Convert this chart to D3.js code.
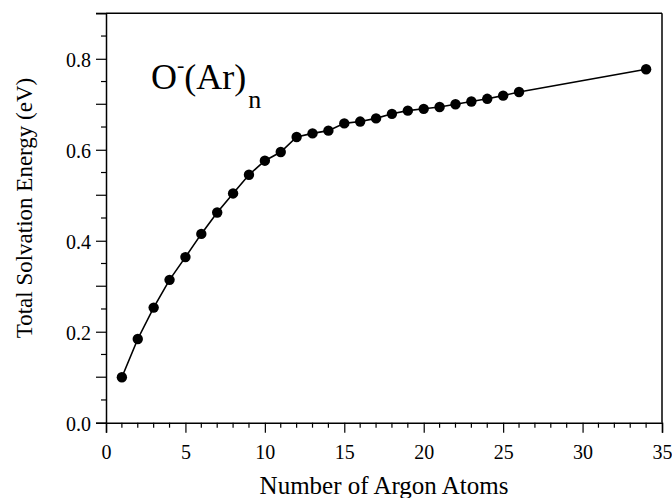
<!DOCTYPE html>
<html>
<head>
<meta charset="utf-8">
<script src="https://cdn.jsdelivr.net/npm/d3@7"></script>
<style>
  html, body { margin: 0; padding: 0; background: #fff; }
  svg { display: block; }
  svg text { font-family: "Liberation Serif", "Times New Roman", serif !important; fill: #000; }
</style>
</head>
<body>
<div id="chart"></div>
<script>
// ---- data ----
const atoms = [1,2,3,4,5,6,7,8,9,10,11,12,13,14,15,16,17,18,19,20,21,22,23,24,25,26,34];
const energy = [0.100,0.184,0.253,0.314,0.364,0.415,0.462,0.504,0.545,0.576,0.595,0.628,0.636,0.642,0.658,0.662,0.669,0.679,0.686,0.690,0.694,0.700,0.706,0.712,0.719,0.727,0.777];
const xTicks = [0,5,10,15,20,25,30,35];
const yTicks = [0.0,0.2,0.4,0.6,0.8];
const xTitle = "Number of Argon Atoms";
const yTitle = "Total Solvation Energy (eV)";

const W = 672, H = 498;
const svg = d3.select("#chart").append("svg").attr("width", W).attr("height", H);

const x = d3.scaleLinear().domain([0, 35]).range([106, 662]);
const y = d3.scaleLinear().domain([0, 0.9]).range([422.7, 13.3]);

// frame (top and right)
svg.append("line").attr("x1", x(0)).attr("x2", x(35)).attr("y1", y(0.9)).attr("y2", y(0.9))
  .attr("stroke", "#000").attr("stroke-width", 1.5);
svg.append("line").attr("x1", x(35)).attr("x2", x(35)).attr("y1", y(0.9)).attr("y2", y(0))
  .attr("stroke", "#000").attr("stroke-width", 1.5);

// x axis
const xMinor = d3.range(0, 36, 1).filter(v => v % 5 !== 0);
const xAx = svg.append("g").attr("transform", `translate(0,${y(0)})`);
xAx.call(d3.axisBottom(x).tickValues(xTicks).tickSize(10).tickPadding(12).tickFormat(d3.format("d")));
xAx.attr("font-family", "Liberation Serif").attr("font-size", 20);
xAx.selectAll(".tick text").attr("font-family", "Liberation Serif").attr("font-size", 20);
xAx.append("g").selectAll("line").data(xMinor).join("line")
  .attr("x1", d => x(d)).attr("x2", d => x(d)).attr("y1", 0).attr("y2", 5)
  .attr("stroke", "#000").attr("stroke-width", 1.2);

// y axis
const yMajor = d3.range(0, 10).map(i => i / 10);
const yMinor = d3.range(0, 9).map(i => i / 10 + 0.05);
const yAx = svg.append("g").attr("transform", `translate(${x(0)},0)`);
yAx.call(d3.axisLeft(y).tickValues(yTicks).tickSize(10).tickPadding(5).tickFormat(d3.format(".1f")));
yAx.attr("font-family", "Liberation Serif").attr("font-size", 20);
yAx.selectAll(".tick text").attr("font-family", "Liberation Serif").attr("font-size", 20).attr("dy", "0.4em");
yAx.append("g").selectAll("line").data(yMajor.filter(v => !yTicks.some(t => Math.abs(t - v) < 1e-9))).join("line")
  .attr("x1", -10).attr("x2", 0).attr("y1", d => y(d)).attr("y2", d => y(d))
  .attr("stroke", "#000").attr("stroke-width", 1.2);
yAx.append("g").selectAll("line").data(yMinor).join("line")
  .attr("x1", -5).attr("x2", 0).attr("y1", d => y(d)).attr("y2", d => y(d))
  .attr("stroke", "#000").attr("stroke-width", 1.2);

svg.selectAll(".domain").attr("stroke", "#000").attr("stroke-width", 1.5);
svg.selectAll(".tick line").attr("stroke", "#000").attr("stroke-width", 1.2);

// data line and points
const pts = atoms.map((n, i) => ({n, e: energy[i]}));
svg.append("path").datum(pts)
  .attr("fill", "none").attr("stroke", "#000").attr("stroke-width", 1.6)
  .attr("d", d3.line().x(d => x(d.n)).y(d => y(d.e)));
svg.append("g").selectAll("circle").data(pts).join("circle")
  .attr("cx", d => x(d.n)).attr("cy", d => y(d.e)).attr("r", 5.2).attr("fill", "#000");

// axis titles
svg.append("text").attr("x", 384).attr("y", 494).attr("text-anchor", "middle")
  .attr("font-size", 25).text(xTitle);
svg.append("text").attr("transform", "translate(32,208) rotate(-90)").attr("text-anchor", "middle")
  .attr("font-size", 23).text(yTitle);

// species label
const lab = svg.append("text").attr("x", 151).attr("y", 89).attr("font-size", 36);
lab.append("tspan").text("O");
lab.append("tspan").attr("dy", -17).attr("font-size", 22).text("-");
lab.append("tspan").attr("dy", 17).text("(Ar)");
lab.append("tspan").attr("dy", 19).attr("dx", 2).attr("font-size", 26).text("n");
</script>
</body>
</html>
